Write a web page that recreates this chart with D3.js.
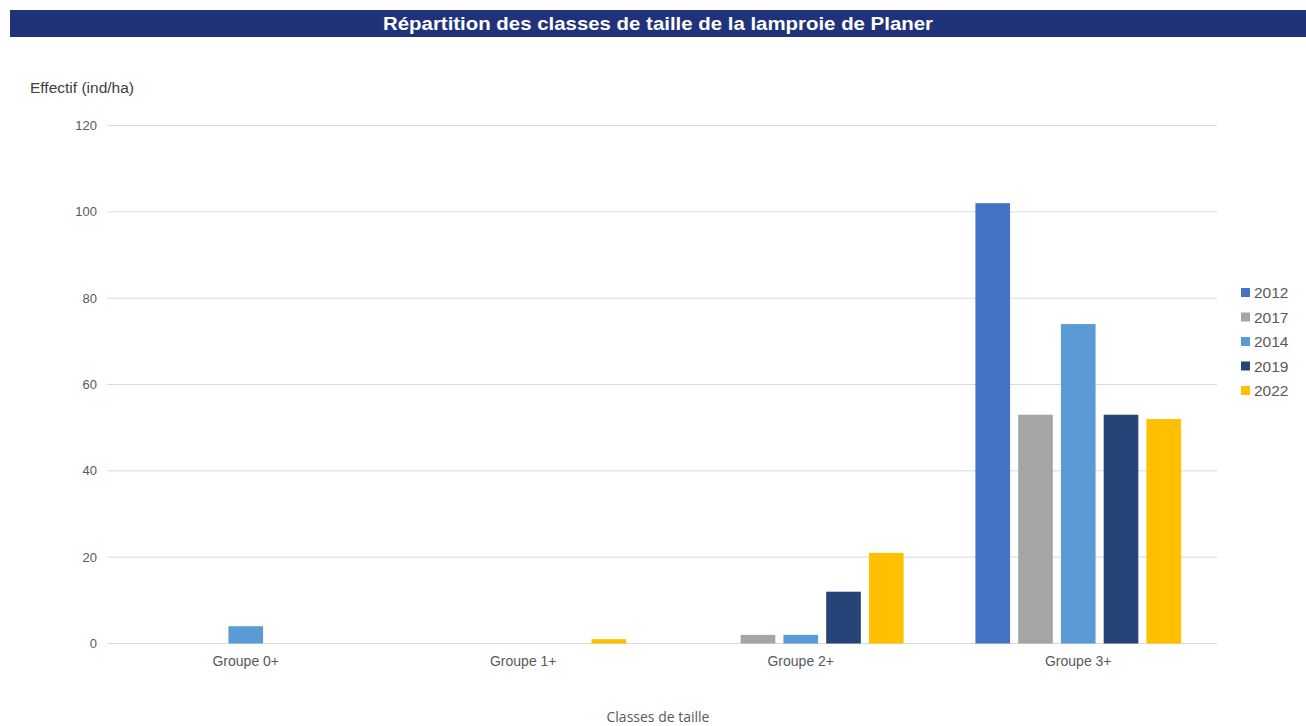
<!DOCTYPE html>
<html>
<head>
<meta charset="utf-8">
<script src="https://cdn.jsdelivr.net/npm/d3@7"></script>
<style>
  body { margin: 0; background: #fff; }
  svg { display: block; font-family: "Liberation Sans", Arial, sans-serif; }
</style>
</head>
<body>
<div id="graph"></div>
<script>
var categories = ["Groupe 0+", "Groupe 1+", "Groupe 2+", "Groupe 3+"];
var years = ["2012", "2017", "2014", "2019", "2022"];
var colors = ["#4472C4", "#A5A5A5", "#5B9BD5", "#264478", "#FFC000"];
// one array per year, in category order
var v2012 = [0, 0, 0, 102];
var v2017 = [0, 0, 2, 53];
var v2014 = [4, 0, 2, 74];
var v2019 = [0, 0, 12, 53];
var v2022 = [0, 1, 21, 52];
var yTicks = [0, 20, 40, 60, 80, 100, 120];

var series = [v2012, v2017, v2014, v2019, v2022];

var svg = d3.select("#graph")
    .append("svg")
    .attr("width", 1306)
    .attr("height", 726);

// title bar
svg.append("rect")
  .attr("x", 10).attr("y", 10)
  .attr("width", 1296).attr("height", 27)
  .attr("fill", "#1F327A");
svg.append("text")
  .attr("x", 658).attr("y", 30)
  .attr("text-anchor", "middle")
  .attr("fill", "#fff")
  .attr("font-weight", "bold")
  .attr("font-size", 18)
  .attr("textLength", 550)
  .attr("lengthAdjust", "spacingAndGlyphs")
  .text("Répartition des classes de taille de la lamproie de Planer");

var x0 = d3.scaleBand().domain(categories).range([107, 1217]).padding(0);
var x1 = d3.scaleBand().domain(years).range([0, x0.bandwidth()])
    .paddingInner(0.19).paddingOuter(0.84);
var y = d3.scaleLinear().domain([0, 120]).range([643.5, 125.5]);

// grid
svg.selectAll("line.grid")
  .data(yTicks)
  .enter()
  .append("line")
  .attr("x1", 107).attr("x2", 1217)
  .attr("y1", function (d) { return y(d); })
  .attr("y2", function (d) { return y(d); })
  .attr("stroke", "#d9d9d9")
  .attr("stroke-width", 1);

svg.selectAll("text.ytick")
  .data(yTicks)
  .enter()
  .append("text")
  .attr("x", 97)
  .attr("y", function (d) { return y(d) + 4.5; })
  .attr("text-anchor", "end")
  .attr("font-size", 13)
  .attr("fill", "#595959")
  .text(function (d) { return d; });

svg.append("text")
  .attr("x", 30).attr("y", 93)
  .attr("font-size", 15.5)
  .attr("fill", "#404040")
  .text("Effectif (ind/ha)");

// bars
var groups = svg.selectAll("g.year")
  .data(series)
  .enter()
  .append("g")
  .attr("fill", function (d, i) { return colors[i]; });

groups.each(function (vals, i) {
  d3.select(this).selectAll("rect")
    .data(vals)
    .enter()
    .append("rect")
    .attr("x", function (d, j) { return x0(categories[j]) + x1(years[i]); })
    .attr("width", x1.bandwidth())
    .attr("y", function (d) { return y(d); })
    .attr("height", function (d) { return y(0) - y(d); });
});

// category labels
svg.selectAll("text.xtick")
  .data(categories)
  .enter()
  .append("text")
  .attr("x", function (d) { return x0(d) + x0.bandwidth() / 2; })
  .attr("y", 666)
  .attr("text-anchor", "middle")
  .attr("font-size", 14)
  .attr("fill", "#595959")
  .text(function (d) { return d; });

svg.append("text")
  .attr("x", 658).attr("y", 722)
  .attr("text-anchor", "middle")
  .attr("font-size", 14)
  .attr("font-family", "'Open Sans', sans-serif")
  .attr("fill", "#595959")
  .text("Classes de taille");

// legend
var legend = svg.selectAll("g.legend")
  .data(years)
  .enter()
  .append("g")
  .attr("transform", function (d, i) { return "translate(1241," + (288 + i * 24.5) + ")"; });
legend.append("rect")
  .attr("width", 9).attr("height", 9)
  .attr("fill", function (d, i) { return colors[i]; });
legend.append("text")
  .attr("x", 13).attr("y", 10)
  .attr("font-size", 15.5)
  .attr("fill", "#595959")
  .text(function (d) { return d; });
</script>
</body>
</html>
